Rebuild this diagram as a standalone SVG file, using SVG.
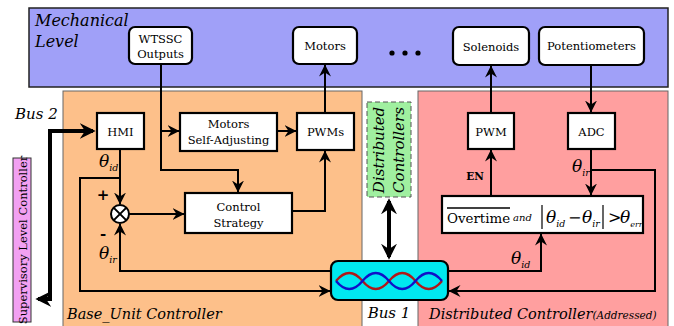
<svg xmlns="http://www.w3.org/2000/svg" width="674" height="326" viewBox="0 0 674 326">
<defs>
<marker id="ah" viewBox="0 0 12 12" refX="11.5" refY="6" markerWidth="12" markerHeight="12" markerUnits="userSpaceOnUse" orient="auto-start-reverse"><path d="M0,0 L12,6 L0,12 L4,6 z" fill="#000"/></marker>
<marker id="ahb" viewBox="0 0 12 12" refX="10" refY="6" markerWidth="16" markerHeight="16" markerUnits="userSpaceOnUse" orient="auto-start-reverse"><path d="M0,0 L12,6 L0,12 L4,6 z" fill="#000"/></marker>
</defs>
<style>
.blk{fill:#fff;stroke:#000;stroke-width:2.2}
.rnd{fill:#fff;stroke:#000;stroke-width:2.2}
.t{font-size:11.5px;text-anchor:middle;fill:#000}
.it{font-style:italic;fill:#000}
.ln{fill:none;stroke:#000;stroke-width:2;marker-end:url(#ah)}
.thick{fill:none;stroke:#000;stroke-width:4;marker-start:url(#ahb);marker-end:url(#ahb)}
</style>

<g id="mechanical-level">
<rect x="29" y="8" width="639" height="79" fill="#a0a0f8" stroke="#222" stroke-width="1.5"/>
<text class="it" font-family="DejaVu Serif" x="35" y="26" font-size="16">Mechanical</text>
<text class="it" font-family="DejaVu Serif" x="35" y="47" font-size="16">Level</text>
</g>
<g id="base-unit-controller">
<rect x="63" y="91" width="299" height="236" fill="#fdc08a" stroke="#666" stroke-width="1"/>
<text class="it" font-family="DejaVu Serif" x="67" y="319" font-size="14.5">Base_Unit Controller</text>
</g>
<g id="distributed-controller">
<rect x="418" y="91" width="250" height="236" fill="#ff9f9f" stroke="#666" stroke-width="1"/>
<text class="it" font-family="DejaVu Serif" x="429" y="319" font-size="14.5">Distributed Controller<tspan font-size="10.5">(Addressed)</tspan></text>
</g>

<g id="wtssc">
<rect class="rnd" x="129" y="27" width="63" height="37" rx="6"/>
<text class="t" font-family="DejaVu Serif" x="160.5" y="43">WTSSC</text>
<text class="t" font-family="DejaVu Serif" x="160.5" y="58">Outputs</text>
</g>
<g id="motors">
<rect class="rnd" x="293" y="27" width="64" height="37" rx="6"/>
<text class="t" font-family="DejaVu Serif" x="325" y="50">Motors</text>
</g>
<g id="dots">
<circle cx="392" cy="53" r="2.6" fill="#000"/>
<circle cx="405" cy="53" r="2.6" fill="#000"/>
<circle cx="418" cy="53" r="2.6" fill="#000"/>
</g>
<g id="solenoids">
<rect class="rnd" x="453" y="27" width="76" height="38" rx="6"/>
<text class="t" font-family="DejaVu Serif" x="491" y="51">Solenoids</text>
</g>
<g id="potentiometers">
<rect class="rnd" x="539" y="27" width="105" height="38" rx="6"/>
<text class="t" font-family="DejaVu Serif" x="591.5" y="50">Potentiometers</text>
</g>

<g id="bus2-label"><text class="it" font-family="DejaVu Serif" x="15" y="119" font-size="15">Bus 2</text></g>
<g id="supervisory">
<rect x="13" y="158" width="18" height="164" fill="#f2a0f2" stroke="#333" stroke-width="1"/>
<text class="t" font-family="DejaVu Serif" transform="translate(26.5,240) rotate(-90)" font-size="11">Supervisory Level Controller</text>
</g>

<g id="hmi">
<rect class="blk" x="97" y="113" width="47" height="36"/>
<text class="t" font-family="DejaVu Serif" x="120.5" y="136">HMI</text>
</g>
<g id="motors-self-adjusting">
<rect class="blk" x="180" y="113" width="97" height="38"/>
<text class="t" font-family="DejaVu Serif" x="228.5" y="128">Motors</text>
<text class="t" font-family="DejaVu Serif" x="228.5" y="144">Self-Adjusting</text>
</g>
<g id="pwms">
<rect class="blk" x="297" y="113" width="57" height="37"/>
<text class="t" font-family="DejaVu Serif" x="325.5" y="136">PWMs</text>
</g>
<g id="control-strategy">
<rect class="blk" x="185" y="193" width="107" height="40"/>
<text class="t" font-family="DejaVu Serif" x="238.5" y="211">Control</text>
<text class="t" font-family="DejaVu Serif" x="238.5" y="227">Strategy</text>
</g>
<g id="summer">
<circle cx="120" cy="214" r="9" fill="#fff" stroke="#000" stroke-width="2"/>
<path d="M113.6,207.6 L126.4,220.4 M126.4,207.6 L113.6,220.4" stroke="#000" stroke-width="2"/>
<text font-family="DejaVu Serif" x="103" y="200" font-size="15" font-weight="bold" text-anchor="middle">+</text>
<text font-family="DejaVu Serif" x="103" y="239" font-size="15" font-weight="bold" text-anchor="middle">-</text>
</g>
<g id="theta-labels-base">
<text class="it" font-family="DejaVu Serif" x="99" y="167" font-size="17">θ<tspan font-size="9.5" dy="4">id</tspan></text>
<text class="it" font-family="DejaVu Serif" x="99" y="259" font-size="17">θ<tspan font-size="9.5" dy="4">ir</tspan></text>
</g>

<g id="distributed-controllers">
<rect x="367" y="102" width="44" height="95" fill="#a0f0a0" stroke="#555" stroke-width="1" stroke-dasharray="5,3"/>
<text class="it" font-family="DejaVu Serif" transform="translate(384,150) rotate(-90)" font-size="15" text-anchor="middle">Distributed</text>
<text class="it" font-family="DejaVu Serif" transform="translate(404,150) rotate(-90)" font-size="15" text-anchor="middle">Controllers</text>
</g>

<g id="bus1">
<rect x="331" y="261" width="117" height="39" rx="7" fill="#00e8f0" stroke="#000" stroke-width="2.2"/>
<path d="M336,281 Q349.25,265 362.5,281 Q375.75,297 389,281 Q402.25,265 415.5,281 Q428.75,297 442,281" fill="none" stroke="#b01818" stroke-width="2.4"/>
<path d="M336,281 Q349.25,297 362.5,281 Q375.75,265 389,281 Q402.25,297 415.5,281 Q428.75,265 442,281" fill="none" stroke="#1010c8" stroke-width="2.4"/>
<text class="it" font-family="DejaVu Serif" x="389" y="318" font-size="15" text-anchor="middle">Bus 1</text>
</g>

<g id="pwm">
<rect class="blk" x="468" y="113" width="46" height="36"/>
<text class="t" font-family="DejaVu Serif" x="491" y="136">PWM</text>
</g>
<g id="adc">
<rect class="blk" x="568" y="113" width="47" height="36"/>
<text class="t" font-family="DejaVu Serif" x="591.5" y="136">ADC</text>
</g>
<g id="overtime-condition">
<rect class="blk" x="442" y="196" width="201" height="37"/>
<text font-family="DejaVu Serif" x="447" y="223" font-size="13.4">Overtime</text>
<line x1="447" y1="208" x2="510" y2="208" stroke="#000" stroke-width="1.5"/>
<text class="it" font-family="DejaVu Serif" x="513" y="221" font-size="10">and</text>
<line x1="542" y1="205" x2="542" y2="229" stroke="#000" stroke-width="1.2"/>
<text class="it" font-family="DejaVu Serif" x="546" y="223" font-size="17">θ<tspan font-size="9.5" dy="4">id</tspan></text>
<text font-family="DejaVu Serif" x="568" y="223" font-size="16">−</text>
<text class="it" font-family="DejaVu Serif" x="582" y="223" font-size="17">θ<tspan font-size="9.5" dy="4">ir</tspan></text>
<line x1="603" y1="205" x2="603" y2="229" stroke="#000" stroke-width="1.2"/>
<text font-family="DejaVu Serif" x="608" y="223" font-size="16">&gt;</text>
<text class="it" font-family="DejaVu Serif" x="620" y="223" font-size="17">θ<tspan font-size="8" dy="4">err</tspan></text>
</g>
<g id="dist-labels">
<text font-family="DejaVu Serif" x="475" y="180" font-size="10.5" font-weight="bold" text-anchor="middle">EN</text>
<text class="it" font-family="DejaVu Serif" x="572" y="172" font-size="17">θ<tspan font-size="9.5" dy="4">ir</tspan></text>
<text class="it" font-family="DejaVu Serif" x="511" y="264" font-size="17">θ<tspan font-size="9.5" dy="4">id</tspan></text>
</g>

<g id="connectors">
<path class="ln" d="M161,64 V170 H238 V192"/>
<path class="ln" d="M161,131 H179"/>
<path class="ln" d="M277,131 H296"/>
<path class="ln" d="M325,113 V65"/>
<path class="ln" d="M292,211 H325 V151"/>
<path class="ln" d="M120,149 V204"/>
<path class="ln" d="M120,178 H80 V291 H330"/>
<path class="ln" d="M331,271 H120 V224"/>
<path class="ln" d="M129,214 H184"/>
<path class="thick" d="M38,299 H50 V131 H93"/>
<path class="thick" d="M389,201 V257"/>
<path class="ln" d="M491,113 V66"/>
<path class="ln" d="M591,65 V112"/>
<path class="ln" d="M491,196 V150"/>
<path class="ln" d="M591,149 V195"/>
<path class="ln" d="M591,170 H655 V291 H449"/>
<path class="ln" d="M448,271 H541 V234"/>
</g>
</svg>
